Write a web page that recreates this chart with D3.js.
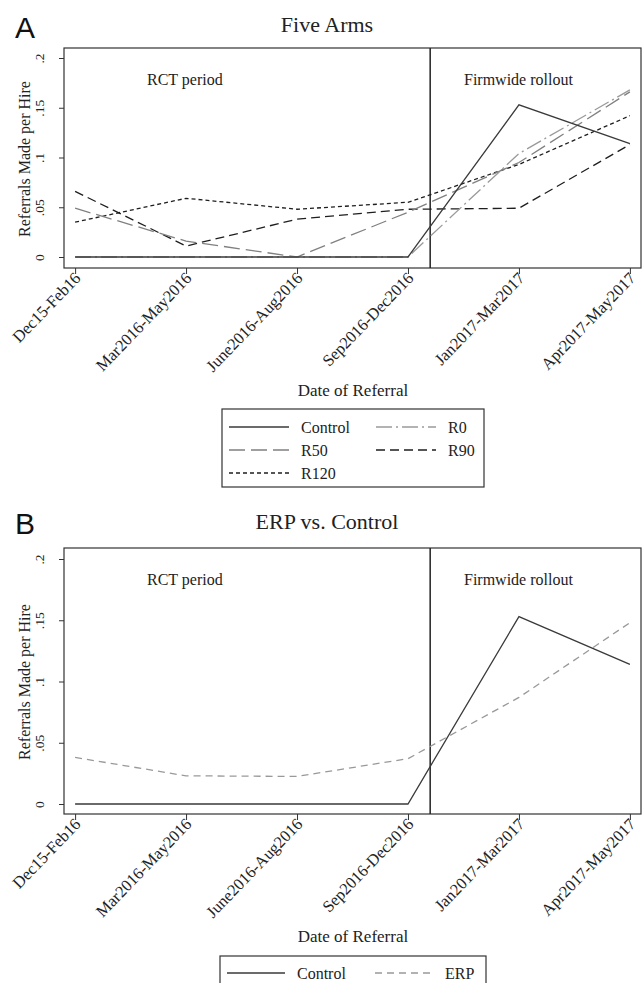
<!DOCTYPE html>
<html>
<head>
<meta charset="utf-8">
<script src="https://cdn.jsdelivr.net/npm/d3@7"></script>
<style>
  body { margin: 0; background: #fff; }
  svg { display: block; }
  text { font-family: "Liberation Serif", "Times New Roman", serif; fill: #222; }
</style>
</head>
<body>
<div id="chart"></div>
<script>
// data
var periods = ["Dec15-Feb16", "Mar2016-May2016", "June2016-Aug2016", "Sep2016-Dec2016", "Jan2017-Mar2017", "Apr2017-May2017"];
var control = [0, 0, 0, 0, 0.153, 0.114];
var r0      = [0, 0, 0, 0, 0.104, 0.168];
var r50     = [0.049, 0.016, 0, 0.045, 0.095, 0.166];
var r90     = [0.066, 0.011, 0.038, 0.048, 0.049, 0.113];
var r120    = [0.035, 0.059, 0.048, 0.055, 0.093, 0.142];
var erp     = [0.038, 0.023, 0.0225, 0.037, 0.087, 0.148];
var yTicks = [0, 0.05, 0.1, 0.15, 0.2];
var yTickLabels = ["0", ".05", ".1", ".15", ".2"];
var rolloutAt = 3.2; // position of the vertical line, in period units

var styles = {
    "Control": {color: "#3a3a3a", dash: null},
    "R0":      {color: "#9a9a9a", dash: "16,4,2,4"},
    "R50":     {color: "#808080", dash: "16,6"},
    "R90":     {color: "#1e1e1e", dash: "9,5"},
    "R120":    {color: "#1e1e1e", dash: "4,3"},
    "ERP":     {color: "#999999", dash: "7,5"}
};

var svg = d3.select("#chart").append("svg")
    .attr("width", 642)
    .attr("height", 983);

function drawPanel(p) {
    var x = d3.scaleLinear().domain([-0.1, 5.1]).range([64, 641]);
    var y = d3.scaleLinear().domain([0, 0.2]).range([p.zero, p.top2]);

    var g = svg.append("g");

    // panel letter and title
    g.append("text")
        .attr("x", 15).attr("y", p.letterY)
        .style("font-family", "'Liberation Sans', Arial, sans-serif")
        .style("font-size", "30px")
        .style("fill", "#111")
        .text(p.letter);
    g.append("text")
        .attr("x", 327).attr("y", p.titleY)
        .attr("text-anchor", "middle")
        .style("font-size", "22px")
        .text(p.title);

    // frame
    g.append("rect")
        .attr("x", 64).attr("y", p.frameTop)
        .attr("width", 577).attr("height", p.frameBottom - p.frameTop)
        .style("fill", "none").style("stroke", "#333").style("stroke-width", 1.2);

    // y axis
    var yAxis = d3.axisLeft(y).tickValues(yTicks).tickSize(5)
        .tickFormat(function(d, i) { return yTickLabels[i]; });
    var ya = g.append("g").attr("transform", "translate(64,0)").call(yAxis);
    ya.select(".domain").remove();
    ya.selectAll("line").style("stroke", "#333");
    ya.selectAll("text")
        .attr("x", 0).attr("y", -20).attr("dy", 0)
        .attr("transform", "rotate(-90)")
        .attr("text-anchor", "middle")
        .style("font-family", "'Liberation Serif', serif")
        .style("font-size", "13.5px")
        .style("fill", "#222");

    g.append("text")
        .attr("transform", "translate(30," + ((p.frameTop + p.frameBottom) / 2 + 1) + ") rotate(-90)")
        .attr("text-anchor", "middle")
        .style("font-size", "16px")
        .text("Referrals Made per Hire");

    // x axis
    var xAxis = d3.axisBottom(x).tickValues(d3.range(periods.length)).tickSize(6)
        .tickFormat(function(d) { return periods[d]; });
    var xa = g.append("g").attr("transform", "translate(0," + p.frameBottom + ")").call(xAxis);
    xa.select(".domain").remove();
    xa.selectAll("line").style("stroke", "#333");
    xa.selectAll("text")
        .attr("x", 0).attr("y", 0).attr("dy", 0)
        .attr("transform", "translate(6,11) rotate(-46)")
        .attr("text-anchor", "end")
        .style("font-family", "'Liberation Serif', serif")
        .style("font-size", "16.5px")
        .style("fill", "#222");

    g.append("text")
        .attr("x", 353).attr("y", p.frameBottom + 128)
        .attr("text-anchor", "middle")
        .style("font-size", "17px")
        .text("Date of Referral");

    // rollout line and period notes
    g.append("line")
        .attr("x1", x(rolloutAt)).attr("x2", x(rolloutAt))
        .attr("y1", p.frameTop).attr("y2", p.frameBottom)
        .style("stroke", "#222").style("stroke-width", 1.5);
    g.append("text").attr("x", 147).attr("y", p.frameTop + 37)
        .style("font-size", "16px").text("RCT period");
    g.append("text").attr("x", 464).attr("y", p.frameTop + 37)
        .style("font-size", "16px").text("Firmwide rollout");

    // series
    var line = d3.line()
        .x(function(d, i) { return x(i); })
        .y(function(d) { return y(d); });

    g.selectAll(".series")
        .data(p.series)
        .enter().append("path")
        .attr("class", "series")
        .attr("d", function(s) { return line(s.values); })
        .style("fill", "none")
        .style("stroke", function(s) { return styles[s.name].color; })
        .style("stroke-width", 1.3)
        .style("stroke-dasharray", function(s) { return styles[s.name].dash; });

    // legend
    var lg = g.append("g");
    lg.append("rect")
        .attr("x", p.legend.x).attr("y", p.legend.y)
        .attr("width", p.legend.w).attr("height", p.legend.h)
        .style("fill", "#fff").style("stroke", "#333").style("stroke-width", 1.2);

    var items = lg.selectAll(".legend")
        .data(p.legendOrder)
        .enter().append("g")
        .attr("class", "legend")
        .attr("transform", function(d, i) {
            return "translate(" + p.legend.cols[i % 2] + "," + (p.legend.y + p.legend.row0 + Math.floor(i / 2) * 23) + ")";
        });
    items.append("line")
        .attr("x1", 0).attr("x2", p.legend.lineLen)
        .style("stroke", function(d) { return styles[d].color; })
        .style("stroke-width", 1.3)
        .style("stroke-dasharray", function(d) { return styles[d].dash; });
    items.append("text")
        .attr("x", p.legend.lineLen + 12).attr("y", 0).attr("dy", "0.35em")
        .style("font-size", "16px")
        .text(function(d) { return d; });
}

drawPanel({
    letter: "A", letterY: 38, title: "Five Arms", titleY: 32,
    frameTop: 48, frameBottom: 268, zero: 257, top2: 58,
    series: [
        {name: "R120", values: r120},
        {name: "R90", values: r90},
        {name: "R50", values: r50},
        {name: "R0", values: r0},
        {name: "Control", values: control}
    ],
    legendOrder: ["Control", "R0", "R50", "R90", "R120"],
    legend: {x: 222, y: 409, w: 262, h: 78, row0: 18, cols: [229, 376], lineLen: 60}
});

drawPanel({
    letter: "B", letterY: 534, title: "ERP vs.  Control", titleY: 529,
    frameTop: 548, frameBottom: 814, zero: 804, top2: 559,
    series: [
        {name: "ERP", values: erp},
        {name: "Control", values: control}
    ],
    legendOrder: ["Control", "ERP"],
    legend: {x: 220, y: 956, w: 266, h: 40, row0: 17, cols: [227, 375], lineLen: 58}
});
</script>
</body>
</html>
